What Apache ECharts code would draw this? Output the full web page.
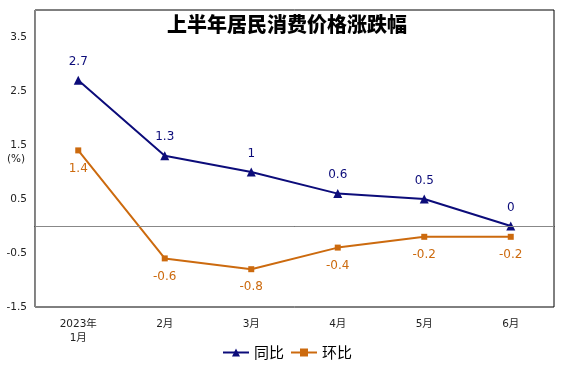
<!DOCTYPE html>
<html><head><meta charset="utf-8">
<script src="https://cdn.jsdelivr.net/npm/echarts@6/dist/echarts.min.js"></script>
<style>html,body{margin:0;padding:0;background:#fff}#c{width:574px;height:374px}</style>
</head><body><div id="c"></div>
<script>
var categories = ['2023年\n1月', '2月', '3月', '4月', '5月', '6月'];
var yoy = [2.7, 1.3, 1, 0.6, 0.5, 0];
var mom = [1.4, -0.6, -0.8, -0.4, -0.2, -0.2];
var seriesNames = ['同比', '环比'];
var titleText = '上半年居民消费价格涨跌幅';
var unitText = '(%)';

var font = '"DejaVu Sans", "Noto Sans CJK SC", sans-serif';
var cjk = '"Noto Sans CJK SC", sans-serif';
var chart = echarts.init(document.getElementById('c'), null, {renderer: 'canvas'});
chart.setOption({
  animation: false,
  title: {
    text: titleText, left: 'center', top: 9,
    textStyle: {fontFamily: cjk, fontSize: 20, fontWeight: 900, color: '#000'}
  },
  grid: {left: 35, right: 20, top: 10, bottom: 67, show: true, borderColor: '#000', borderWidth: 1, containLabel: false},
  legend: {
    bottom: 9, left: 'center', itemWidth: 26, itemHeight: 10, itemGap: 6,
    textStyle: {fontFamily: cjk, fontSize: 15, color: '#000'},
    data: [seriesNames[0], seriesNames[1]]
  },
  xAxis: {
    type: 'category', data: categories, boundaryGap: true,
    axisLine: {lineStyle: {color: '#000', width: 1}},
    axisTick: {show: false},
    axisLabel: {fontFamily: font, fontSize: 10.5, color: '#222', margin: 10, lineHeight: 14}
  },
  yAxis: {
    type: 'value', min: -1.5, max: 4, interval: 1,
    axisLine: {show: true, lineStyle: {color: '#888'}},
    axisTick: {show: false},
    splitLine: {show: false},
    axisLabel: {fontFamily: font, fontSize: 10.5, color: '#222', margin: 8, showMaxLabel: false}
  },
  graphic: [{
    type: 'text', left: 7, top: 154,
    style: {text: unitText, font: '10.5px "DejaVu Sans"', fill: '#222'}
  }],
  series: [{
    name: seriesNames[0], type: 'line', data: yoy,
    symbol: 'triangle', symbolSize: 9,
    lineStyle: {color: '#0c0c7a', width: 2},
    itemStyle: {color: '#0c0c7a'},
    label: {show: true, position: 'top', distance: 8, fontFamily: font, fontSize: 12, color: '#0c0c7a'},
    markLine: {
      silent: true, symbol: 'none', label: {show: false},
      lineStyle: {color: '#888', width: 1, type: 'solid'},
      data: [{yAxis: 0}]
    },
    z: 3
  }, {
    name: seriesNames[1], type: 'line', data: mom,
    symbol: 'rect', symbolSize: 6,
    lineStyle: {color: '#cc6a0e', width: 2},
    itemStyle: {color: '#cc6a0e'},
    label: {show: true, position: 'bottom', distance: 9, fontFamily: font, fontSize: 12, color: '#cc6a0e'},
    z: 2
  }]
});
</script></body></html>
